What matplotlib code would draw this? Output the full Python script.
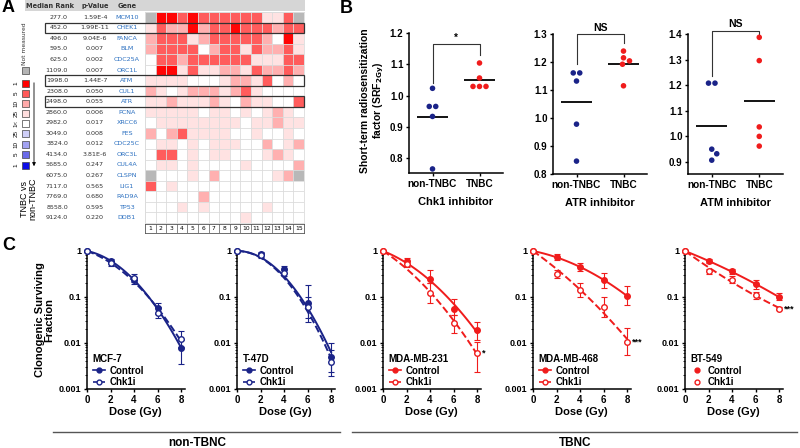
import numpy as np
import matplotlib
matplotlib.use("Agg")
import matplotlib.pyplot as plt
from matplotlib.colors import ListedColormap, BoundaryNorm
from matplotlib.patches import Rectangle
from matplotlib.lines import Line2D
from matplotlib.ticker import NullFormatter, LogLocator

plt.rcParams['font.family'] = ['Liberation Sans', 'DejaVu Sans']

W, H = 800, 448

# ---------------- panel A data ----------------
median_rank = [277.0, 452.0, 496.0, 595.0, 625.0, 1109.0, 1998.0, 2308.0, 2498.0, 2860.0,
               2982.0, 3049.0, 3824.0, 4134.0, 5685.0, 6075.0, 7117.0, 7769.0, 8558.0, 9124.0]
p_values = ['1.59E-4', '1.99E-11', '9.04E-6', '0.007', '0.002', '0.007', '1.44E-7', '0.050',
            '0.055', '0.006', '0.017', '0.008', '0.012', '3.81E-6', '0.247', '0.267', '0.565',
            '0.680', '0.595', '0.220']
genes = ['MCM10', 'CHEK1', 'FANCA', 'BLM', 'CDC25A', 'ORC1L', 'ATM', 'CUL1', 'ATR', 'PCNA',
         'XRCC6', 'FES', 'CDC25C', 'ORC3L', 'CUL4A', 'CLSPN', 'LIG1', 'RAD9A', 'TP53', 'DDB1']
boxed_genes = ['CHEK1', 'ATM', 'ATR']
# -1 not measured, 0 white, 1 = top 25, 2 = top 10, 3 = top 5, 4 = top 1
heat_levels = [
    [-1, 4, 4, 3, 4, 3, 3, 3, 3, 3, 3, 1, 1, 3, -1],
    [1, 3, 2, 2, 4, 2, 3, 3, 4, 3, 3, 3, 2, 3, 3],
    [2, 3, 3, 3, 1, 2, 3, 3, 3, 3, 3, 2, 0, 4, 1],
    [2, 3, 3, 3, 3, 0, 2, 3, 3, 1, 3, 2, 2, 3, 1],
    [0, 3, 3, 2, 3, 3, 3, 3, 3, 3, 1, 1, 1, 3, 3],
    [0, 4, 4, 1, 3, 1, 1, 2, 2, 1, 3, 2, 2, 3, 2],
    [1, 1, 1, 1, 0, 0, 0, 1, 2, 2, 1, 3, 0, 2, 0],
    [2, 1, 0, 1, 2, 2, 2, 1, 2, 3, 1, 0, 0, 0, 0],
    [1, 1, 2, 1, 1, 1, 2, 1, 0, 2, 1, 1, 0, 0, 3],
    [1, 1, 1, 1, 1, 0, 1, 1, 0, 1, 0, 1, 2, 1, 0],
    [0, 1, 1, 1, 1, 1, 1, 1, 1, 0, 1, 1, 2, 1, 1],
    [2, 0, 2, 3, 1, 1, 1, 1, 0, 0, 1, 0, 0, 1, 0],
    [0, 1, 1, 0, 1, 0, 1, 1, 1, 0, 0, 2, 0, 1, 2],
    [0, 3, 3, 0, 1, 0, 1, 1, 0, 0, 0, 1, 2, 1, 0],
    [0, 1, 1, 0, 1, 0, 0, 0, 0, 1, 0, 0, 0, 0, 2],
    [-1, 0, 0, 0, 1, 0, 2, 0, 0, 0, 0, 0, 1, 2, -1],
    [3, 0, 1, 0, 0, 0, 0, 0, 0, 0, 0, 0, 0, 0, 0],
    [0, 0, 0, 0, 0, 2, 0, 0, 0, 0, 0, 0, 0, 0, 0],
    [0, 0, 0, 1, 0, 1, 0, 0, 0, 0, 0, 1, 0, 0, 0],
    [0, 0, 0, 0, 0, 0, 0, 0, 0, 1, 0, 0, 0, 0, 0],
]
legend_red = ['1', '5', '10', '25']
legend_blue = ['25', '10', '5', '1']

# ---------------- panel B data ----------------
b_titles = ['Chk1 inhibitor', 'ATR inhibitor', 'ATM inhibitor']
b_groups = ['non-TNBC', 'TNBC']
chk1_non = [1.023, 0.965, 0.965, 0.933, 0.765]
chk1_tn = [1.104, 1.056, 1.029, 1.029, 1.029]
atr_non = [1.161, 1.161, 1.132, 0.978, 0.846]
atr_tn = [1.239, 1.215, 1.204, 1.192, 1.115]
atm_non = [1.208, 1.208, 0.950, 0.932, 0.907]
atm_tn = [1.387, 1.296, 1.037, 1.000, 0.962]
b_sig = ['*', 'NS', 'NS']

# ---------------- panel C data ----------------
cell_lines = ['MCF-7', 'T-47D', 'MDA-MB-231', 'MDA-MB-468', 'BT-549']
dose = [0, 2, 4, 6, 8]
ctrl_sf = [[1, 0.60, 0.23, 0.058, 0.0078],
           [1, 0.85, 0.40, 0.075, 0.0050],
           [1, 0.62, 0.25, 0.056, 0.019],
           [1, 0.75, 0.45, 0.23, 0.107],
           [1, 0.60, 0.36, 0.19, 0.100]]
ctrl_lo = [[1, 0.52, 0.19, 0.042, 0.0035],
           [1, 0.75, 0.33, 0.029, 0.0019],
           [1, 0.52, 0.20, 0.041, 0.0117],
           [1, 0.65, 0.36, 0.16, 0.067],
           [1, 0.54, 0.31, 0.15, 0.085]]
ctrl_hi = [[1, 0.68, 0.27, 0.075, 0.0115],
           [1, 0.95, 0.47, 0.18, 0.0100],
           [1, 0.72, 0.39, 0.091, 0.0285],
           [1, 0.85, 0.55, 0.33, 0.170],
           [1, 0.66, 0.41, 0.23, 0.120]]
chk_sf = [[1, 0.55, 0.26, 0.045, 0.012],
          [1, 0.80, 0.33, 0.060, 0.0039],
          [1, 0.52, 0.12, 0.027, 0.0062],
          [1, 0.32, 0.14, 0.060, 0.0107],
          [1, 0.36, 0.24, 0.110, 0.056]]
chk_lo = [[1, 0.48, 0.21, 0.035, 0.008],
          [1, 0.70, 0.28, 0.035, 0.0024],
          [1, 0.45, 0.074, 0.0165, 0.0024],
          [1, 0.26, 0.10, 0.037, 0.0055],
          [1, 0.31, 0.20, 0.090, 0.052]]
chk_hi = [[1, 0.62, 0.31, 0.060, 0.018],
          [1, 0.90, 0.38, 0.100, 0.0070],
          [1, 0.60, 0.20, 0.041, 0.0107],
          [1, 0.38, 0.20, 0.100, 0.021],
          [1, 0.41, 0.28, 0.130, 0.060]]
c_stars = ['', '', '*', '***', '***']

NAVY = '#1a2388'
RED = '#f01c1c'
BOLD = dict(fontweight='bold')

fig = plt.figure(figsize=(W / 100, H / 100), dpi=100)


def px_axes(x0, y0, x1, y1):
    return fig.add_axes([x0 / W, 1 - y1 / H, (x1 - x0) / W, (y1 - y0) / H])


# ================= Panel A =================
axA = px_axes(0, 0, 340, 245)
axA.set_xlim(0, 340)
axA.set_ylim(245, 0)
axA.axis('off')
axA.add_patch(Rectangle((25, 0), 280, 11, facecolor='#d6d6d6', edgecolor='none'))
for lab, x in [('Median Rank', 50), ('p-Value', 95), ('Gene', 127)]:
    axA.text(x, 5.8, lab, ha='center', va='center', fontsize=4.8, fontweight='bold',
             color='#333333', family='DejaVu Sans')

# legend on the left
axA.text(25, 44, 'Not measured', rotation=90, ha='center', va='center', fontsize=4.3,
         color='#333333', family='DejaVu Sans')
axA.add_patch(Rectangle((22, 67), 7, 7, facecolor='#b4b4b4', edgecolor='#444444', lw=0.5))
red_cols = ['#ff0000', '#ff5a5a', '#ffaaaa', '#ffdede']
blue_cols = ['#cfcff8', '#a2a2f2', '#6a6aea', '#0c0ce6']
for i, lab in enumerate(legend_red):
    y = 80 + i * 10
    axA.add_patch(Rectangle((22, y), 7, 7, facecolor=red_cols[i], edgecolor='#444444', lw=0.5))
    axA.text(16, y + 3.5, lab, rotation=90, ha='center', va='center', fontsize=4.5)
axA.add_patch(Rectangle((22, 120), 7, 7, facecolor='white', edgecolor='#444444', lw=0.5))
axA.text(16, 123.5, '1<', rotation=90, ha='center', va='center', fontsize=4.5)
for i, lab in enumerate(legend_blue):
    y = 130 + i * 10.5
    axA.add_patch(Rectangle((22, y), 7, 7, facecolor=blue_cols[i], edgecolor='#444444', lw=0.5))
    axA.text(16, y + 3.5, lab, rotation=90, ha='center', va='center', fontsize=4.5)
axA.annotate('', xy=(34, 169), xytext=(34, 80),
             arrowprops=dict(arrowstyle='-|>', lw=0.6, color='black', mutation_scale=5))
axA.text(29, 199, 'TNBC vs\nnon-TNBC', rotation=90, ha='center', va='center', fontsize=6.5,
         linespacing=0.9)
axA.text(2, 12, 'A', fontsize=13, **BOLD)
axA.text(340, 13, 'B', fontsize=13, **BOLD)
axA.text(2, 250, 'C', fontsize=13, **BOLD, clip_on=False)

# heatmap
hm = px_axes(145, 12, 304, 223)
cmap = ListedColormap(['#b8b8b8', '#ffffff', '#ffe2e2', '#ffb0b0', '#ff5c5c', '#ff0505'])
norm = BoundaryNorm(np.arange(-1.5, 5, 1), cmap.N)
hm.imshow(np.array(heat_levels), cmap=cmap, norm=norm, aspect='auto', interpolation='nearest')
hm.set_xticks(np.arange(-0.5, 15, 1), minor=True)
hm.set_yticks(np.arange(-0.5, 20, 1), minor=True)
hm.set_xticks([])
hm.set_yticks([])
hm.grid(which='minor', color='#dcdcdc', lw=0.6)
hm.tick_params(which='both', length=0)
for s in hm.spines.values():
    s.set_color('#dcdcdc')
    s.set_linewidth(0.6)

# column numbers
cn = px_axes(145, 224, 304, 233)
cn.set_xlim(-0.5, 14.5)
cn.set_ylim(0, 1)
cn.set_xticks([])
cn.set_yticks([])
for c in range(15):
    cn.text(c, 0.45, str(c + 1), ha='center', va='center', fontsize=4.3, family='DejaVu Sans')
    if c < 14:
        cn.axvline(c + 0.5, color='#555555', lw=0.5)
for s in cn.spines.values():
    s.set_color('#555555')
    s.set_linewidth(0.6)

# table rows
tb = px_axes(0, 12, 340, 223)
tb.set_xlim(0, 340)
tb.set_ylim(len(genes) - 0.5, -0.5)
tb.axis('off')
tb.patch.set_alpha(0)
for i, g in enumerate(genes):
    tb.text(68, i, f'{median_rank[i]:.1f}', ha='right', va='center', fontsize=4.6,
            color='#333333', family='DejaVu Sans')
    tb.text(95, i, p_values[i], ha='center', va='center', fontsize=4.6,
            color='#333333', family='DejaVu Sans')
    tb.text(127, i, g, ha='center', va='center', fontsize=4.6, color='#2a6fc0',
            family='DejaVu Sans')
    if g in boxed_genes:
        tb.add_patch(Rectangle((45, i - 0.5), 259, 1, facecolor='none', edgecolor='#333333',
                               lw=0.9, clip_on=False))

# ================= Panel B =================
b_axes_px = [(409, 33, 503, 173), (553, 34, 647, 174), (688, 34, 783, 174)]
b_ylims = [(0.752, 1.2), (0.8, 1.3), (0.853, 1.4)]
b_yticks = [[0.8, 0.9, 1.0, 1.1, 1.2], [0.8, 0.9, 1.0, 1.1, 1.2, 1.3],
            [0.9, 1.0, 1.1, 1.2, 1.3, 1.4]]
b_brackets = [(1.165, 1.040, 1.129), (1.300, 1.194, 1.267), (1.413, 1.237, 1.392)]
b_data = [(chk1_non, chk1_tn), (atr_non, atr_tn), (atm_non, atm_tn)]


def swarm(vals, ypx, xpx, d=6.5):
    placed = []
    offs = []
    steps = [0]
    for k in range(1, 40):
        steps += [k * 0.5, -k * 0.5]
    for v in vals:
        for s in steps:
            if all(np.hypot(s - px_, (v - pv) * ypx) >= d for px_, pv in placed):
                placed.append((s, v))
                offs.append(s)
                break
    # centre points that share a row
    offs = np.array(offs)
    vals = np.array(vals)
    for v in np.unique(vals):
        m = vals == v
        if m.sum() > 1:
            offs[m] -= offs[m].mean()
    return offs / xpx


for k in range(3):
    x0, y0, x1, y1 = b_axes_px[k]
    ax = px_axes(x0, y0, x1, y1)
    lo, hi = b_ylims[k]
    ax.set_xlim(-0.5, 1.5)
    ax.set_ylim(lo, hi)
    ypx = (y1 - y0) / (hi - lo)
    xpx = (x1 - x0) / 2.0
    for gi, (vals, col) in enumerate(zip(b_data[k], [NAVY, RED])):
        offs = swarm(vals, ypx, xpx)
        ax.scatter(offs + gi, vals, s=16, color=col, edgecolor='none', zorder=3,
                   clip_on=False)
        ax.hlines(np.mean(vals), gi - 0.33, gi + 0.33, color='black', lw=1.3, zorder=2)
    top, left_end, right_end = b_brackets[k]
    ax.plot([0, 0, 1, 1], [left_end, top, top, right_end], color='#333333', lw=0.8,
            clip_on=False)
    ax.annotate(b_sig[k], (0.5, top), xytext=(0, 1), textcoords='offset points',
                ha='center', va='bottom', fontsize=7 if b_sig[k] == '*' else 7.5,
                fontweight='bold', annotation_clip=False)
    ax.set_yticks(b_yticks[k])
    ax.set_yticklabels([f'{t:.1f}' for t in b_yticks[k]], fontsize=7, fontweight='bold')
    ax.set_xticks([0, 1])
    ax.set_xticklabels(b_groups, fontsize=7.2, fontweight='bold')
    ax.set_xlabel(b_titles[k], fontsize=8, fontweight='bold', labelpad=6)
    ax.spines['top'].set_visible(False)
    ax.spines['right'].set_visible(False)
    for s in ['left', 'bottom']:
        ax.spines[s].set_linewidth(1.1)
    ax.tick_params(width=1, length=2.5, pad=1.5)

fig.text(373 / W, 1 - 101 / H, 'Short-term radiosensitization\nfactor (SRF$_{\\mathbf{2Gy}}$)',
         rotation=90, ha='center', va='center', fontsize=7.5, fontweight='bold',
         linespacing=1.1)

# ================= Panel C =================
c_x0 = [87, 237, 383, 533, 685]
c_cols = [NAVY, NAVY, RED, RED, RED]
px_per_gy = 11.75
dd = np.array(dose, dtype=float)
grid = np.linspace(0, 8, 100)


def lq_fit(sf):
    # linear-quadratic fit: ln S = -a D - b D^2, with a >= 0
    y = -np.log(sf)
    A = np.column_stack([dd, dd ** 2])
    a, b = np.linalg.lstsq(A, y, rcond=None)[0]
    if a < 0:
        a = 0.0
        b = np.sum(y * dd ** 2) / np.sum(dd ** 4)
    return np.exp(-a * grid - b * grid ** 2)


for k in range(5):
    x0 = c_x0[k]
    ax = px_axes(x0, 251, x0 + 8.3 * px_per_gy, 389)
    col = c_cols[k]
    ax.set_yscale('log')
    ax.set_xlim(0, 8.3)
    ax.set_ylim(0.001, 1)
    for sf, lo_, hi_, ls, mfc in [(ctrl_sf[k], ctrl_lo[k], ctrl_hi[k], '-', col),
                                  (chk_sf[k], chk_lo[k], chk_hi[k], '--', 'white')]:
        sf = np.array(sf)
        ax.plot(grid, lq_fit(sf), ls, color=col, lw=1.4, clip_on=False)
        ax.errorbar(dd, sf, yerr=[sf - np.array(lo_), np.array(hi_) - sf], fmt='none',
                    ecolor=col, elinewidth=0.8, capsize=2, capthick=0.8, clip_on=False)
        ax.plot(dd, sf, 'o', color=col, mfc=mfc, mew=1, ms=4, zorder=4, clip_on=False)
    if c_stars[k]:
        ax.text(8.45, chk_sf[k][-1], c_stars[k], ha='left', va='center', fontsize=6.5,
                fontweight='bold', clip_on=False)
    if k < 4:
        handles = [Line2D([], [], color=col, ls='-', marker='o', ms=3.5, lw=1.2),
                   Line2D([], [], color=col, ls='--', marker='o', mfc='white', ms=3.5, lw=1.2)]
    else:
        handles = [Line2D([], [], color=col, ls='none', marker='o', ms=3.5),
                   Line2D([], [], color=col, ls='none', marker='o', mfc='white', ms=3.5)]
    leg = ax.legend(handles, ['Control', 'Chk1i'], title=cell_lines[k], loc='lower left',
                    bbox_to_anchor=(-0.03, -0.05), frameon=False, handlelength=1.3,
                    handletextpad=0.4, labelspacing=0.15, alignment='left',
                    prop=dict(size=7, weight='bold'),
                    title_fontproperties=dict(size=7, weight='bold'))
    leg._legend_box.sep = 1
    ax.set_yticks([0.001, 0.01, 0.1, 1])
    ax.set_yticklabels(['0.001', '0.01', '0.1', '1'], fontsize=6.5, fontweight='bold')
    ax.yaxis.set_minor_locator(LogLocator(base=10, subs=np.arange(2, 10)))
    ax.yaxis.set_minor_formatter(NullFormatter())
    ax.set_xticks([0, 2, 4, 6, 8])
    ax.set_xticklabels(['0', '2', '4', '6', '8'], fontsize=7, fontweight='bold')
    ax.set_xlabel('Dose (Gy)', fontsize=8, fontweight='bold', labelpad=2)
    ax.spines['top'].set_visible(False)
    ax.spines['right'].set_visible(False)
    for s in ['left', 'bottom']:
        ax.spines[s].set_linewidth(1.1)
    ax.tick_params(which='major', width=1, length=2.5, pad=1.5)
    ax.tick_params(which='minor', width=0.6, length=1.5)
    if k == 0:
        ax.set_ylabel('Clonogenic Surviving\nFraction', fontsize=8, fontweight='bold',
                      labelpad=3, linespacing=1.0)

# group lines under panel C
for (xa, xb, lab, xt) in [(53, 340, 'non-TBNC', 197), (352, 797, 'TBNC', 575)]:
    fig.add_artist(Line2D([xa / W, xb / W], [1 - 432 / H] * 2, color='#555555', lw=1))
    fig.text(xt / W, 1 - 443 / H, lab, ha='center', va='center', fontsize=8.5, **BOLD)

fig.savefig('out.png', dpi=100)
